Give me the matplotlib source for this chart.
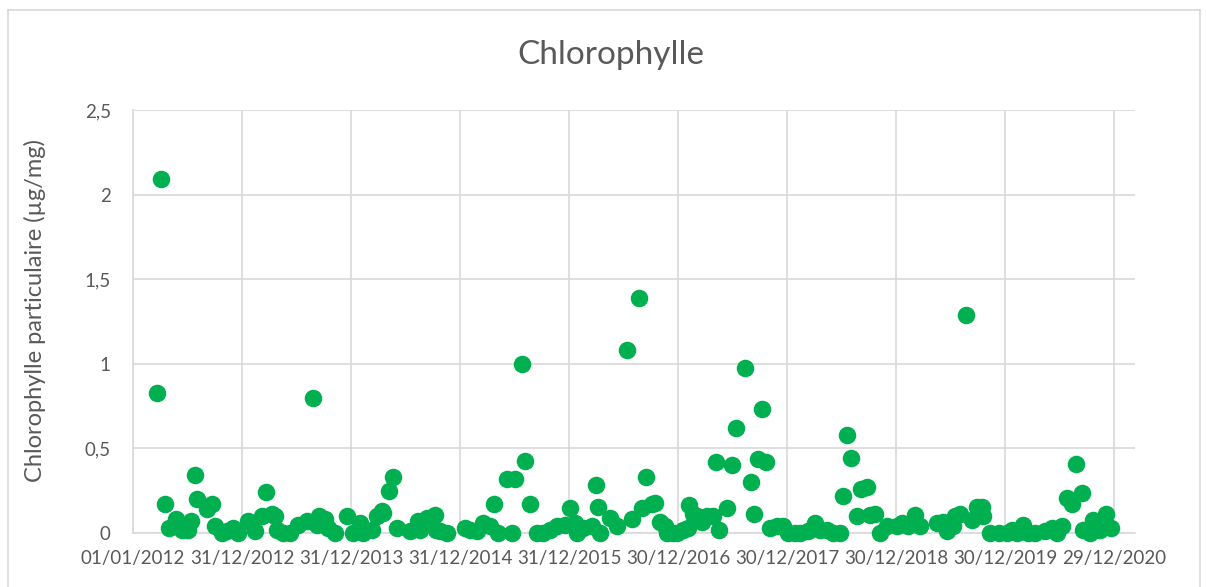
import pandas as pd
import matplotlib.pyplot as plt
import matplotlib.dates as mdates
from matplotlib.lines import Line2D

# sampling dates as Excel serial numbers (01/01/2012 = 40909)
serials = [
    40989, 41003, 41017, 41030, 41053, 41073, 41093, 41103, 41116, 41122,
    41156, 41174, 41184, 41206, 41223, 41244, 41261, 41294, 41318, 41340,
    41354, 41373, 41385, 41390, 41410, 41435, 41462, 41491, 41512, 41524,
    41532, 41552, 41562, 41585, 41625, 41646, 41669, 41679, 41708, 41725,
    41742, 41747, 41766, 41779, 41793, 41837, 41863, 41870, 41892, 41920,
    41923, 41937, 41959, 42021, 42037, 42060, 42082, 42104, 42117, 42132,
    42160, 42177, 42188, 42213, 42222, 42237, 42261, 42283, 42305, 42328,
    42356, 42373, 42389, 42395, 42417, 42445, 42458, 42467, 42473, 42506,
    42529, 42563, 42579, 42603, 42612, 42626, 42646, 42657, 42674, 42690,
    42696, 42718, 42730, 42752, 42768, 42772, 42785, 42797, 42813, 42830,
    42852, 42860, 42872, 42899, 42914, 42927, 42957, 42977, 42989, 43003,
    43014, 43029, 43042, 43065, 43087, 43103, 43126, 43142, 43170, 43193,
    43209, 43232, 43254, 43276, 43285, 43299, 43312, 43332, 43347, 43366,
    43377, 43394, 43410, 43433, 43466, 43483, 43505, 43528, 43544, 43600,
    43622, 43634, 43656, 43662, 43678, 43698, 43717, 43734, 43751, 43756,
    43779, 43807, 43835, 43851, 43868, 43890, 43907, 43929, 43963, 43985,
    44002, 44019, 44037, 44054, 44067, 44086, 44091, 44114, 44123, 44147,
    44167, 44183,
]
chloro = [
    0.83, 2.09, 0.17, 0.03, 0.08, 0.02, 0.02, 0.07, 0.34, 0.20,
    0.14, 0.17, 0.04, 0.00, 0.01, 0.03, 0.00, 0.07, 0.01, 0.10,
    0.24, 0.11, 0.10, 0.02, 0.00, 0.00, 0.05, 0.07, 0.80, 0.05,
    0.10, 0.08, 0.03, 0.00, 0.10, 0.00, 0.06, 0.00, 0.02, 0.10,
    0.13, 0.12, 0.25, 0.33, 0.03, 0.01, 0.07, 0.02, 0.09, 0.105,
    0.02, 0.01, 0.00, 0.03, 0.02, 0.01, 0.06, 0.04, 0.17, 0.00,
    0.32, 0.00, 0.32, 1.00, 0.425, 0.17, 0.00, 0.00, 0.02, 0.04,
    0.05, 0.15, 0.06, 0.00, 0.03, 0.04, 0.285, 0.155, 0.00, 0.09,
    0.04, 1.08, 0.08, 1.39, 0.15, 0.33, 0.17, 0.18, 0.065, 0.04,
    0.00, 0.00, 0.00, 0.02, 0.03, 0.165, 0.115, 0.10, 0.065, 0.10,
    0.10, 0.42, 0.015, 0.15, 0.40, 0.62, 0.975, 0.30, 0.11, 0.44,
    0.735, 0.42, 0.03, 0.04, 0.04, 0.00, 0.00, 0.00, 0.01, 0.06,
    0.02, 0.02, 0.00, 0.00, 0.22, 0.58, 0.445, 0.10, 0.26, 0.27,
    0.105, 0.11, 0.00, 0.04, 0.04, 0.06, 0.04, 0.105, 0.04, 0.06,
    0.065, 0.01, 0.04, 0.10, 0.115, 1.29, 0.075, 0.155, 0.155, 0.10,
    0.00, 0.00, 0.00, 0.02, 0.00, 0.05, 0.00, 0.00, 0.01, 0.03,
    0.00, 0.04, 0.205, 0.17, 0.41, 0.235, 0.02, 0.00, 0.075, 0.02,
    0.11, 0.03,
]
y_ticks = [0, 0.5, 1, 1.5, 2, 2.5]
y_labels = ["0", "0,5", "1", "1,5", "2", "2,5"]
x_start = 40909
x_end = 44264
x_step = 365

plt.rcParams['font.family'] = ['Lato', 'DejaVu Sans']

dates = pd.to_datetime(serials, unit='D', origin='1899-12-30')
tick_dates = pd.to_datetime(list(range(x_start, x_end, x_step)), unit='D', origin='1899-12-30')
x_min = pd.to_datetime(x_start, unit='D', origin='1899-12-30')
x_max = pd.to_datetime(x_end, unit='D', origin='1899-12-30')

fig = plt.figure(figsize=(12.06, 5.87), dpi=100)
ax = fig.add_axes([133 / 1206, 1 - 533 / 587, (1135 - 133) / 1206, (533 - 110) / 587])

ax.scatter(dates, chloro, s=135, color='#00B050', zorder=3, clip_on=False)

ax.set_xlim(x_min, x_max)
ax.set_ylim(0, 2.5)
ax.set_xticks(tick_dates)
ax.xaxis.set_major_formatter(mdates.DateFormatter('%d/%m/%Y'))
ax.set_yticks(y_ticks)
ax.set_yticklabels(y_labels)

ax.grid(True, color='#D9D9D9', linewidth=1.2)
ax.set_axisbelow(True)
for side in ['top', 'right']:
    ax.spines[side].set_visible(False)
for side in ['left', 'bottom']:
    ax.spines[side].set_color('#D9D9D9')
    ax.spines[side].set_linewidth(1.2)
ax.tick_params(length=0, labelsize=13.5, colors='#595959')
ax.tick_params(axis='x', pad=12)
ax.tick_params(axis='y', pad=16)

ax.set_ylabel("Chlorophylle particulaire (µg/mg)", fontsize=17, color='#595959')
ax.yaxis.set_label_coords(-0.087, 0.527)
fig.text(611 / 1206, 1 - 55 / 587, "Chlorophylle", fontsize=24, color='#595959',
         ha='center', va='center')

# chart area border
bx0, bx1, by1 = 8 / 1206, 1200 / 1206, 1 - 10 / 587
fig.add_artist(Line2D([bx0, bx1], [by1, by1], color='#D9D9D9', lw=1.2, transform=fig.transFigure))
fig.add_artist(Line2D([bx0, bx0], [0, by1], color='#D9D9D9', lw=1.2, transform=fig.transFigure))
fig.add_artist(Line2D([bx1, bx1], [0, by1], color='#D9D9D9', lw=1.2, transform=fig.transFigure))

fig.savefig("out.png", dpi=100)
